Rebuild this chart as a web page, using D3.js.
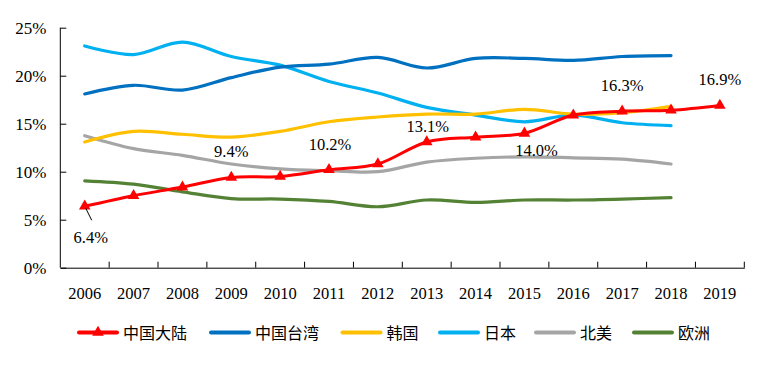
<!DOCTYPE html>
<html><head><meta charset="utf-8">
<script src="https://cdn.jsdelivr.net/npm/d3@7"></script>
<style>
html,body{margin:0;padding:0;background:#fff;}
svg{display:block;}
</style></head>
<body>
<svg id="chart" width="769" height="369"></svg>
<script>
const years = [2006,2007,2008,2009,2010,2011,2012,2013,2014,2015,2016,2017,2018,2019];
const yTicks = [0,5,10,15,20,25];
const mainland = [6.4,7.5,8.4,9.4,9.5,10.2,10.8,13.1,13.6,14.0,15.9,16.3,16.4,16.9];
const taiwan   = [18.1,19.0,18.5,19.8,20.9,21.2,21.9,20.8,21.8,21.8,21.6,22.0,22.1];
const korea    = [13.1,14.2,13.9,13.6,14.2,15.2,15.7,16.0,16.0,16.5,16.0,16.15,16.8];
const japan    = [23.1,22.2,23.5,22.0,21.1,19.4,18.2,16.7,15.9,15.2,15.9,15.1,14.8];
const northAm  = [13.75,12.4,11.7,10.8,10.3,10.1,10.0,11.0,11.4,11.55,11.45,11.3,10.8];
const europe   = [9.05,8.7,7.9,7.2,7.15,6.9,6.35,7.05,6.8,7.05,7.05,7.15,7.3];
const seriesNames = ["中国大陆","中国台湾","韩国","日本","北美","欧洲"];
const seriesColors = ["#FF0000","#0070C0","#FFC000","#00B0F0","#A5A5A5","#548235"];
const labelYears = [2006,2009,2011,2013,2015,2017,2019];
const labelDx = [6,0,1,1,12,0,0];
const labelDy = [37,-20,-20,-10,23,-20,-20];

const svg = d3.select("#chart");
const margin = {left:60.3, right:24.7, top:27.7, bottom:101.3};
const W = 769, H = 369;
const x = d3.scaleBand().domain(years).range([margin.left, W - margin.right]).padding(0);
const y = d3.scaleLinear().domain([0,25]).range([H - margin.bottom, margin.top]);
const cx = d => x(d) + x.bandwidth()/2;
const serif = "'Liberation Serif','Times New Roman',serif";

// axes
const gx = svg.append("g").attr("transform",`translate(0,${y(0)})`)
  .call(d3.axisBottom(x).tickSize(0).tickPadding(20).tickFormat(d=>d));
gx.select(".domain").attr("stroke","#000");
gx.selectAll("text").attr("font-family",serif).attr("font-size","16.5px").attr("fill","#000");
// inward ticks at band boundaries
const bounds = years.map(d=>x(d)).concat([x(years[years.length-1])+x.bandwidth()]).slice(1);
gx.selectAll("line.bt").data(bounds).enter().append("line").attr("class","bt")
  .attr("x1",d=>d).attr("x2",d=>d).attr("y1",0).attr("y2",-6).attr("stroke","#000");

const gy = svg.append("g").attr("transform",`translate(${margin.left},0)`)
  .call(d3.axisLeft(y).tickValues(yTicks).tickSize(-6).tickPadding(14).tickFormat(d=>d+"%"));
gy.select(".domain").attr("stroke","#000").attr("d",`M0,${y(25)}V${y(0)}`);
gy.selectAll("line").attr("stroke","#000");
gy.selectAll("text").attr("font-family",serif).attr("font-size","17px").attr("fill","#000");

const line = d3.line().x((d,i)=>cx(years[i])).y(d=>y(d)).curve(d3.curveCatmullRom.alpha(0.5));
const allSeries = [mainland,taiwan,korea,japan,northAm,europe];
// draw order: others first, mainland on top
[5,4,3,2,1].forEach(k=>{
  svg.append("path").datum(allSeries[k]).attr("d",line).attr("fill","none")
    .attr("stroke",seriesColors[k]).attr("stroke-width",3.2).attr("stroke-linecap","round");
});
svg.append("path").datum(mainland).attr("d",line).attr("fill","none")
  .attr("stroke",seriesColors[0]).attr("stroke-width",3).attr("stroke-linecap","round");
const tri = d3.symbol().type(d3.symbolTriangle).size(58);
svg.selectAll("path.mk").data(mainland).enter().append("path").attr("class","mk")
  .attr("d",tri).attr("fill","#FF0000")
  .attr("transform",(d,i)=>`translate(${cx(years[i])},${y(d)})`);

// data labels
labelYears.forEach((yr,j)=>{
  const i = years.indexOf(yr);
  const px = cx(yr), py = y(mainland[i]);
  svg.append("text").attr("x",px+labelDx[j]).attr("y",py+labelDy[j])
    .attr("text-anchor","middle").attr("font-family",serif).attr("font-size","16.5px")
    .attr("fill","#000").text(mainland[i].toFixed(1)+"%");
  if (j===0) {
    svg.append("line").attr("x1",px+1).attr("y1",py+2).attr("x2",px+7).attr("y2",py+14)
      .attr("stroke","#000").attr("stroke-width",1);
  }
});

// legend
const legX = [79,211,342.5,440,536,634];
const legY = 332.5;
seriesNames.forEach((n,k)=>{
  const g = svg.append("g").attr("transform",`translate(${legX[k]},${legY})`);
  g.append("line").attr("x1",0).attr("x2",38).attr("y1",0).attr("y2",0)
    .attr("stroke",seriesColors[k]).attr("stroke-width",4).attr("stroke-linecap","round");
  if (k===0) g.append("path").attr("d",tri).attr("fill","#FF0000").attr("transform","translate(19,0)");
  g.append("text").attr("x",44).attr("y",6).attr("font-family","'Noto Sans CJK SC',sans-serif")
    .attr("font-size","16px").attr("fill","#000").text(n);
});
</script>
</body></html>
